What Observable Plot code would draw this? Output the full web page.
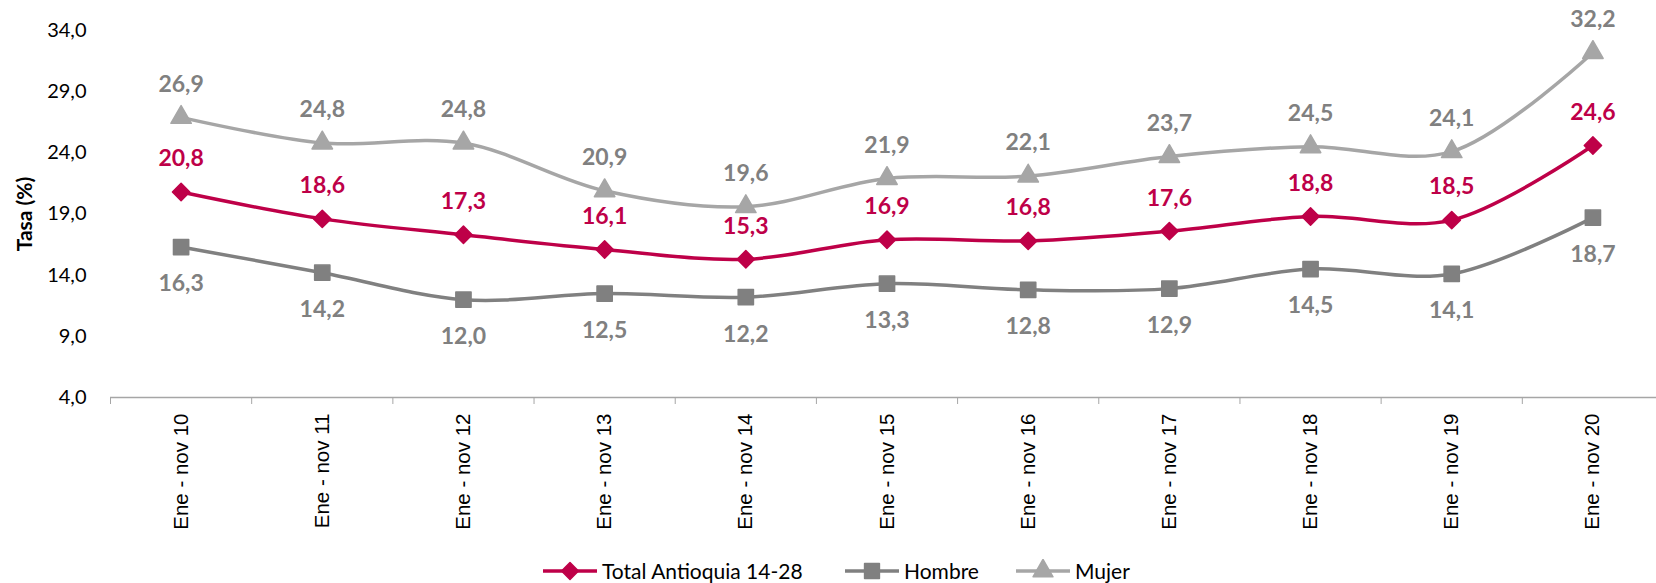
<!DOCTYPE html>
<html><head><meta charset="utf-8">
<script src="https://cdn.jsdelivr.net/npm/d3@7"></script>
<script src="https://cdn.jsdelivr.net/npm/@observablehq/plot@0.6"></script>
<style>
body{margin:0;background:#fff;}
#wrap{position:relative;width:1656px;height:583px;overflow:hidden;background:#fff;}
#chart{position:absolute;left:0;top:0;}
#legend{position:absolute;left:0;top:558px;width:1656px;height:25px;font-family:Lato,sans-serif;font-size:21px;line-height:25px;color:#000;}
.item{position:absolute;top:0;height:25px;display:flex;align-items:center;white-space:nowrap;}
.item svg{margin-right:5px;}
#chart g[aria-label="x-axis tick label"] text{font-family:"Liberation Sans",Arial,sans-serif;}
</style></head><body>
<div id="wrap"><div id="chart"></div><div id="legend"></div></div>
<script>
const categories = ["Ene - nov 10","Ene - nov 11","Ene - nov 12","Ene - nov 13","Ene - nov 14","Ene - nov 15","Ene - nov 16","Ene - nov 17","Ene - nov 18","Ene - nov 19","Ene - nov 20"];
const total  = [20.8, 18.6, 17.3, 16.1, 15.3, 16.9, 16.8, 17.6, 18.8, 18.5, 24.6];
const hombre = [16.3, 14.2, 12.0, 12.5, 12.2, 13.3, 12.8, 12.9, 14.5, 14.1, 18.7];
const mujer  = [26.9, 24.8, 24.8, 20.9, 19.6, 21.9, 22.1, 23.7, 24.5, 24.1, 32.2];
const yTicks = [4, 9, 14, 19, 24, 29, 34];
const seriesNames = ["Total Antioquia 14-28", "Hombre", "Mujer"];
const yTitle = "Tasa (%)";

const seriesStyle = {
  "Total Antioquia 14-28": {color:"#BE0048", label:"#BE0048", symbol:"diamond2", r:7.8, dy:-33},
  "Hombre": {color:"#808080", label:"#808080", symbol:"square", r:8.6, dy:37},
  "Mujer": {color:"#A6A6A6", label:"#808080", symbol:"triangle", r:7.6, dy:-33}
};
const values = [total, hombre, mujer];
const rows = [];
seriesNames.forEach((s, k) => values[k].forEach((v, i) => rows.push({series:s, i, cat:categories[i], value:v})));
const fmt = v => v.toFixed(1).replace(".", ",");
const bounds = categories.map((d, i) => i - 0.5).concat([categories.length - 0.5]);

const marks = [
  Plot.ruleY([yTicks[0]], {stroke:"#A6A6A6", strokeWidth:1.3}),
  Plot.axisX({ticks: bounds, tickSize: 7, tickFormat: () => "", stroke:"#A6A6A6", label: null}),
  Plot.axisX({ticks: categories.map((d, i) => i), tickFormat: i => categories[i], tickSize: 0, tickPadding: 16, tickRotate: -90, fontSize: 20.5, fontFamily:"Liberation Sans, Arial, sans-serif", fill:"#000", label: null}),
  Plot.axisY({ticks: yTicks, tickFormat: fmt, tickSize: 0, tickPadding: 24, fontSize: 20, fill:"#000", label: null}),
  Plot.text([yTitle], {frameAnchor:"left", textAnchor:"middle", lineAnchor:"middle", dx:-85, rotate:-90, fontWeight:"bold", fontSize:21, fill:"#000"})
];
seriesNames.forEach(s => {
  const st = seriesStyle[s];
  const data = rows.filter(d => d.series === s);
  marks.push(Plot.line(data, {x:"i", y:"value", stroke:st.color, strokeWidth:3.5, curve:"catmull-rom"}));
});
seriesNames.forEach(s => {
  const st = seriesStyle[s];
  const data = rows.filter(d => d.series === s);
  marks.push(Plot.dot(data, {x:"i", y:"value", symbol:st.symbol, r:st.r, fill:st.color, stroke:st.color, strokeWidth:1.5, strokeLinejoin:"round"}));
  marks.push(Plot.text(data, {x:"i", y:"value", text:d => fmt(d.value), dy:st.dy, fill:st.label, fontWeight:"bold", fontSize:23}));
});

const chart = Plot.plot({
  width: 1656, height: 553,
  marginLeft: 110, marginRight: -7, marginTop: 30, marginBottom: 156,
  style: {fontFamily:"Lato, sans-serif", background:"transparent", overflow:"visible"},
  x: {type:"linear", domain:[-0.5, categories.length - 0.5], axis:null},
  y: {type:"linear", domain:[yTicks[0], yTicks[yTicks.length-1]], axis:null},
  marks
});
document.getElementById("chart").appendChild(chart);

// legend
const legendLeft = [543, 845, 1016];
const legend = document.getElementById("legend");
seriesNames.forEach((s, k) => {
  const st = seriesStyle[s];
  const item = document.createElement("div");
  item.className = "item";
  item.style.left = legendLeft[k] + "px";
  const sym = d3.symbol().type({diamond2:d3.symbolDiamond2, square:d3.symbolSquare, triangle:d3.symbolTriangle}[st.symbol]).size(Math.PI*st.r*st.r*0.95)();
  item.innerHTML = `<svg width="54" height="24" viewBox="0 0 54 24"><line x1="0" x2="54" y1="12" y2="12" stroke="${st.color}" stroke-width="3.5"/><path d="${sym}" transform="translate(27,12)" fill="${st.color}" stroke="${st.color}" stroke-width="1.5" stroke-linejoin="round"/></svg><span>${s}</span>`;
  legend.appendChild(item);
});
</script>
</body></html>
